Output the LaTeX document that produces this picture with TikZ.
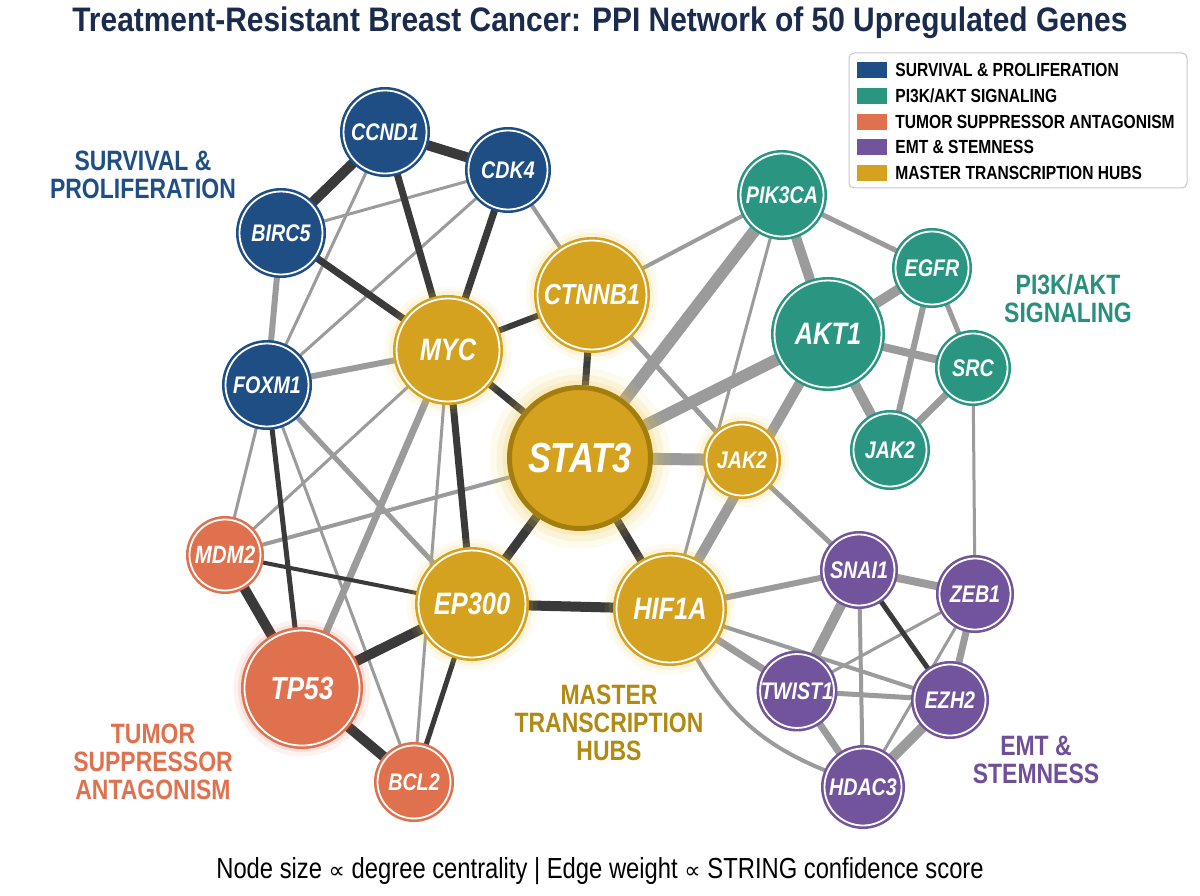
\documentclass[tikz,border=0pt]{standalone}
\usepackage{fontspec}
\setmainfont{Liberation Sans}
\newfontfamily\condsf[FakeStretch=0.82]{Liberation Sans}
\newfontfamily\titlesf[FakeStretch=0.88]{Liberation Sans}
\newfontfamily\symsf{DejaVu Sans}
\usetikzlibrary{positioning,backgrounds}
\definecolor{survc}{HTML}{1F4E85}
\definecolor{pathc}{HTML}{2A9682}
\definecolor{tumorc}{HTML}{E0714E}
\definecolor{emtc}{HTML}{71549C}
\definecolor{hubc}{HTML}{D4A21F}
\definecolor{hubdark}{HTML}{A37E0E}
\definecolor{hubglow}{HTML}{F2C94A}
\definecolor{hublab}{HTML}{B08A12}
\definecolor{pathlab}{HTML}{2A8F7D}
\definecolor{emtlab}{HTML}{6F4F9A}
\definecolor{titlec}{HTML}{1B2B4B}
\definecolor{edgedk}{HTML}{3A3A3A}
\definecolor{edgegy}{HTML}{9B9B9B}
\newcommand{\gsize}[1]{\fontsize{#1}{#1}\selectfont}

\begin{document}
\begin{tikzpicture}[x=1pt,y=-1pt,
    gene/.style n args={3}{circle, inner sep=0pt, minimum size=#1, fill=#2, draw=white, line width=1.8,
      preaction={draw=#2, line width=7}, text=white, font=\condsf\bfseries\itshape\gsize{#3}},
    hub/.style 2 args={preaction={draw=hubglow, draw opacity=0.08, line width=24},
      preaction={draw=hubglow, draw opacity=0.12, line width=15}, gene={#1}{hubc}{#2}},
    stathub/.style={circle, inner sep=0pt, minimum size=141, fill=hubc, draw=hubdark, line width=5,
      preaction={draw=hubglow, draw opacity=0.09, line width=40},
      preaction={draw=hubglow, draw opacity=0.13, line width=26},
      preaction={draw=hubglow, draw opacity=0.18, line width=14},
      text=white, font=\condsf\bfseries\itshape\gsize{42}},
    redglow/.style={preaction={draw=tumorc!70!red, draw opacity=0.07, line width=22},
      preaction={draw=tumorc!70!red, draw opacity=0.11, line width=13}},
    dk/.style={draw=edgedk, line width=#1},
    gy/.style={draw=edgegy, line width=#1},
    grouplabel/.style={align=center, inner sep=0pt, font=\condsf\bfseries\fontsize{28}{28}\selectfont},
    swatch/.style={minimum width=30, minimum height=16, inner sep=0pt},
    legtext/.style={inner sep=0pt, font=\condsf\bfseries\gsize{19}}]
  \useasboundingbox (0,0) rectangle (1200,896);

  \node[font=\titlesf\bfseries\gsize{34}, text=titlec] (title) at (600,23)
    {Treatment-Resistant Breast Cancer: PPI Network of 50 Upregulated Genes};

  \node[gene={83}{survc}{24}] (ccnd1) at (385,132) {CCND1};
  \node[gene={79}{survc}{24}] (cdk4) at (508,170) {CDK4};
  \node[gene={83}{survc}{24}] (birc5) at (281,233) {BIRC5};
  \node[gene={83}{survc}{24}] (foxm1) at (267,385) {FOXM1};
  \node[hub={103}{31}] (myc) at (448,350) {MYC};
  \node[hub={109}{29}] (ctnnb1) at (592,295) {CTNNB1};
  \node[stathub] (stat3) at (580,458) {STAT3};
  \node[hub={71}{24}] (jak2g) at (742,460) {JAK2};
  \node[hub={107}{31}] (ep300) at (472,604) {EP300};
  \node[hub={107}{31}] (hif1a) at (670,609) {HIF1A};
  \node[gene={83}{pathc}{24}] (pik3ca) at (782,195) {PIK3CA};
  \node[gene={73}{pathc}{24}] (egfr) at (932,268) {EGFR};
  \node[gene={107}{pathc}{31}] (akt1) at (828,334) {AKT1};
  \node[gene={69}{pathc}{24}] (src) at (973,368) {SRC};
  \node[gene={73}{pathc}{24}] (jak2t) at (890,450) {JAK2};
  \node[gene={71}{tumorc}{25}] (mdm2) at (225,555) {MDM2};
  \node[redglow, gene={115}{tumorc}{32}] (tp53) at (302,688) {TP53};
  \node[gene={73}{tumorc}{24}] (bcl2) at (414,782) {BCL2};
  \node[gene={71}{emtc}{24}] (snai1) at (859,570) {SNAI1};
  \node[gene={71}{emtc}{24}] (zeb1) at (975,594) {ZEB1};
  \node[gene={73}{emtc}{24}] (twist1) at (797,691) {TWIST1};
  \node[gene={71}{emtc}{24}] (ezh2) at (950,700) {EZH2};
  \node[gene={77}{emtc}{24}] (hdac3) at (863,787) {HDAC3};

  \begin{scope}[on background layer]
    \fill[white] (0,0) rectangle (1200,896);
    \draw[gy=3] (birc5) to (cdk4);
    \draw[gy=3] (ccnd1) to (foxm1);
    \draw[gy=3] (cdk4) to (foxm1);
    \draw[gy=6] (birc5) to (foxm1);
    \draw[gy=4] (cdk4) to (ctnnb1);
    \draw[gy=6] (myc) to (foxm1);
    \draw[gy=3] (foxm1) to (mdm2);
    \draw[gy=3] (foxm1) to (bcl2);
    \draw[gy=5] (foxm1) to (ep300);
    \draw[gy=3] (myc) to (mdm2);
    \draw[gy=7] (myc) to (tp53);
    \draw[gy=3] (myc) to (bcl2);
    \draw[gy=4] (stat3) to (mdm2);
    \draw[gy=12] (stat3) to (jak2g);
    \draw[gy=12] (stat3) to (pik3ca);
    \draw[gy=12] (stat3) to (akt1);
    \draw[gy=4] (ctnnb1) to (pik3ca);
    \draw[gy=5] (ctnnb1) to (jak2g);
    \draw[gy=3] (pik3ca) to (hif1a);
    \draw[gy=10] (pik3ca) to (akt1);
    \draw[gy=5] (pik3ca) to (egfr);
    \draw[gy=10] (akt1) to (egfr);
    \draw[gy=8] (akt1) to (src);
    \draw[gy=10] (akt1) to (jak2t);
    \draw[gy=6] (egfr) to (jak2t);
    \draw[gy=5] (egfr) to (src);
    \draw[gy=7] (src) to (jak2t);
    \draw[gy=3] (src) to (zeb1);
    \draw[gy=10] (akt1) to (hif1a);
    \draw[gy=5] (jak2g) to (snai1);
    \draw[gy=6] (hif1a) to (snai1);
    \draw[gy=7] (hif1a) to (twist1);
    \draw[gy=4] (hif1a) to (ezh2);
    \draw[gy=4] (hif1a) to[bend right=19] (hdac3);
    \draw[gy=8] (snai1) to (zeb1);
    \draw[gy=10] (snai1) to (twist1);
    \draw[gy=4] (snai1) to (hdac3);
    \draw[gy=3] (zeb1) to (twist1);
    \draw[gy=7] (zeb1) to (ezh2);
    \draw[gy=3] (zeb1) to (hdac3);
    \draw[gy=5] (twist1) to (ezh2);
    \draw[gy=7] (twist1) to (hdac3);
    \draw[gy=10] (ezh2) to (hdac3);
    \draw[dk=10] (ccnd1) to (birc5);
    \draw[dk=10] (ccnd1) to (cdk4);
    \draw[dk=7] (ccnd1) to (myc);
    \draw[dk=7] (cdk4) to (myc);
    \draw[dk=7] (birc5) to (myc);
    \draw[dk=6] (myc) to (ctnnb1);
    \draw[dk=7] (myc) to (stat3);
    \draw[dk=7] (myc) to (ep300);
    \draw[dk=7] (ctnnb1) to (stat3);
    \draw[dk=9] (stat3) to (ep300);
    \draw[dk=8] (stat3) to (hif1a);
    \draw[dk=10] (ep300) to (hif1a);
    \draw[dk=5] (foxm1) to (tp53);
    \draw[dk=4] (mdm2) to (ep300);
    \draw[dk=10] (mdm2) to (tp53);
    \draw[dk=10] (tp53) to (ep300);
    \draw[dk=10] (tp53) to (bcl2);
    \draw[dk=5] (ep300) to (bcl2);
    \draw[dk=5] (snai1) to (ezh2);
  \end{scope}

  \node[grouplabel, text=survc] (survlabel) at (143,175) {SURVIVAL \&\\PROLIFERATION};
  \node[grouplabel, text=pathlab] (pathlabel) at (1068,298) {PI3K/AKT\\SIGNALING};
  \node[grouplabel, text=tumorc] (tumorlabel) at (153,762) {TUMOR\\SUPPRESSOR\\ANTAGONISM};
  \node[grouplabel, text=hublab] (hublabel) at (609,723) {MASTER\\TRANSCRIPTION\\HUBS};
  \node[grouplabel, text=emtlab] (emtlabel) at (1036,760) {EMT \&\\STEMNESS};

  \draw[rounded corners=5, draw=black!22, fill=white, line width=1] (849,53) rectangle (1187,188);
  \node[swatch, fill=survc] (sw1) at (872,70) {};
  \node[swatch, fill=pathc] (sw2) at (872,96) {};
  \node[swatch, fill=tumorc] (sw3) at (872,122) {};
  \node[swatch, fill=emtc] (sw4) at (872,147) {};
  \node[swatch, fill=hubc] (sw5) at (872,173) {};
  \node[legtext, right=8pt of sw1] (lt1) {SURVIVAL \& PROLIFERATION};
  \node[legtext, right=8pt of sw2] (lt2) {PI3K/AKT SIGNALING};
  \node[legtext, right=8pt of sw3] (lt3) {TUMOR SUPPRESSOR ANTAGONISM};
  \node[legtext, right=8pt of sw4] (lt4) {EMT \& STEMNESS};
  \node[legtext, right=8pt of sw5] (lt5) {MASTER TRANSCRIPTION HUBS};

  \node[font=\condsf\gsize{29}] (note) at (600,871)
    {Node size {\symsf\fontsize{23}{23}\selectfont ∝} degree centrality | Edge weight {\symsf\fontsize{23}{23}\selectfont ∝} STRING confidence score};
\end{tikzpicture}
\end{document}
